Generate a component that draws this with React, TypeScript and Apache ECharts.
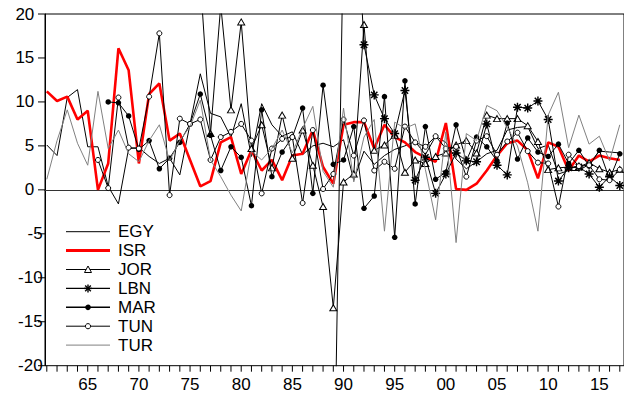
import React, { useEffect, useRef } from "react";
import * as echarts from "echarts";

const years = [
  1961, 1962, 1963, 1964, 1965, 1966, 1967, 1968, 1969, 1970,
  1971, 1972, 1973, 1974, 1975, 1976, 1977, 1978, 1979, 1980,
  1981, 1982, 1983, 1984, 1985, 1986, 1987, 1988, 1989, 1990,
  1991, 1992, 1993, 1994, 1995, 1996, 1997, 1998, 1999, 2000,
  2001, 2002, 2003, 2004, 2005, 2006, 2007, 2008, 2009, 2010,
  2011, 2012, 2013, 2014, 2015, 2016, 2017,
];
const labelYears = [1965, 1970, 1975, 1980, 1985, 1990, 1995, 2000, 2005, 2010, 2015];
const yTickValues = [-20, -15, -10, -5, 0, 5, 10, 15, 20];

const EGY = [
  5.1, 3.9, 10.5, 11.4, 4.9, 4.9, 0.4, -1.6, 4.7, 4.8,
  3.8, 3.0, 3.6, 1.7, 7.5, 13.2, 8.7, 8.3, 6.0, 9.8,
  3.8, 9.8, 7.4, 6.1, 6.6, 4.0, 5.0, 5.3, 4.9, 5.7,
  1.1, 4.4, 2.9, 3.9, 4.6, 5.0, 5.5, 4.0, 6.1, 5.4,
  3.5, 2.4, 3.2, 4.1, 4.5, 6.8, 7.1, 7.2, 4.7, 5.1,
  1.8, 2.2, 2.2, 2.9, 4.4, 4.3, 4.2,
];
const ISR = [
  11.2, 10.1, 10.6, 8.0, 9.0, 0.0, 3.0, 16.1, 13.6, 3.0,
  10.9, 12.1, 5.6, 6.4, 3.4, 0.4, 1.0, 5.4, 6.0, 1.8,
  4.5, 2.2, 3.4, 1.1, 3.9, 4.1, 6.8, 2.6, 0.7, 7.4,
  7.7, 7.7, 4.7, 7.4, 6.0, 5.4, 4.3, 3.7, 3.2, 7.6,
  0.1, 0.0, 0.7, 2.2, 3.9, 5.3, 5.6, 4.5, 1.3, 5.4,
  4.9, 2.2, 3.9, 3.2, 3.9, 3.6, 3.4,
];
const JOR = [
  null, null, null, null, null, null, null, null, null, null,
  null, null, null, null, null, 24, 6.4, 21, 9.1, 19.1,
  4.7, 7.4, 2.5, 8.5, 3.6, 6.8, 2.8, -1.9, -13.4, 0.9,
  1.8, 18.8, 4.5, 5.1, 6.2, 2.0, 3.4, 3.0, 3.8, 4.2,
  5.1, 5.6, 4.2, 8.5, 8.1, 8.1, 8.1, 7.3, 5.5, 2.3,
  2.5, 2.6, 2.6, 3.1, 2.4, 2.0, 2.3,
];
const LBN = [
  null, null, null, null, null, null, null, null, null, null,
  null, null, null, null, null, null, null, null, null, null,
  null, null, null, null, null, null, null, null, -40, 30,
  38.2, 16.5, 10.8, 8.1, 6.4, 11.3, 1.1, 3.7, -0.4, 1.8,
  4.2, 3.3, 3.2, 7.5, 2.8, 1.7, 9.4, 9.3, 10.1, 8.0,
  1.0, 2.5, 2.6, 1.8, 0.3, 1.5, 0.5,
];
const MAR = [
  null, null, null, null, null, null, 10.0, 9.9, 8.4, 4.6,
  5.6, 2.4, 3.6, 5.4, 7.5, 10.9, 6.2, 2.2, 4.9, 3.7,
  -1.8, 9.1, 1.5, 4.3, 6.0, 9.3, -0.4, 11.9, 2.9, 3.4,
  7.2, -2.1, -0.7, 10.6, -5.4, 12.4, -1.6, 7.2, 1.2, 2.0,
  7.4, 3.3, 6.0, 4.9, 3.3, 7.6, 3.5, 5.9, 4.3, 3.8,
  5.2, 3.0, 4.5, 2.7, 4.5, 1.2, 4.1,
];
const TUN = [
  null, null, null, null, null, 3.4, 0.2, 10.5, 4.8, 4.7,
  10.6, 17.8, -0.6, 8.1, 7.5, 8.0, 3.4, 6.0, 6.6, 7.5,
  5.6, -0.4, 4.7, 5.8, 6.0, -1.5, 6.8, 0.1, 1.8, 8.0,
  3.9, 7.9, 2.2, 3.2, 2.4, 7.2, 5.4, 4.9, 6.1, 4.7,
  4.9, 1.5, 5.6, 6.1, 4.0, 5.5, 6.5, 4.4, 3.1, 3.0,
  -1.9, 4.0, 2.7, 2.8, 1.2, 1.1, 2.3,
];
const TUR = [
  1.2, 5.6, 9.1, 5.3, 2.8, 11.2, 4.7, 6.8, 4.1, 3.2,
  5.6, 7.4, 3.3, 5.6, 7.2, 10.2, 3.4, 1.5, -0.6, -2.4,
  4.4, 3.4, 4.7, 6.8, 4.2, 7.0, 9.5, 2.1, 0.3, 9.3,
  0.9, 6.0, 8.0, -4.7, 7.7, 7.0, 7.5, 2.3, -3.4, 6.6,
  -6.0, 6.4, 5.6, 9.6, 9.0, 7.1, 5.0, 0.8, -4.7, 8.5,
  11.1, 4.8, 8.5, 5.2, 6.1, 3.3, 7.4,
];

const seriesNames = ["EGY", "ISR", "JOR", "LBN", "MAR", "TUN", "TUR"];

const X_MIN = 1960.824;
const X_MAX = 2017.41;
const Y_MIN = -20;
const Y_MAX = 20;

const FONT = '"Liberation Sans", Arial, Helvetica, sans-serif';
const FS = 17;
const STAR =
  "path://M-5,-0.8L5,-0.8L5,0.8L-5,0.8Z M-0.8,-5L0.8,-5L0.8,5L-0.8,5Z M-2.97,-4.1L4.1,2.97L2.97,4.1L-4.1,-2.97Z M4.1,-2.97L-2.97,4.1L-4.1,2.97L2.97,-4.1Z";

function toData(arr: (number | null)[]) {
  return years
    .map((y, i) => [y, arr[i]])
    .filter((d) => d[1] !== null && d[1] !== undefined);
}

function buildLegend() {
  const top = 231.7;
  const step = 18.9;
  const x1 = 66;
  const x2 = 110;
  const cx = (x1 + x2) / 2;
  const els: any[] = [];
  seriesNames.forEach((name, i) => {
    const y = top + i * step;
    let stroke = "#000";
    let lw = 1;
    if (name === "ISR") {
      stroke = "#ff0000";
      lw = 3;
    } else if (name === "TUR") {
      stroke = "#808080";
    } else if (name === "LBN" || name === "MAR") {
      lw = 1.4;
    }
    els.push({
      type: "line",
      shape: { x1, y1: y, x2, y2: y },
      style: { stroke, lineWidth: lw },
      silent: true,
    });
    if (name === "JOR") {
      els.push({
        type: "polygon",
        shape: { points: [[cx, y - 3.5], [cx + 3.5, y + 3], [cx - 3.5, y + 3]] },
        style: { fill: "#fff", stroke: "#000", lineWidth: 1 },
        silent: true,
      });
    } else if (name === "LBN") {
      const r = 4;
      const d = r * 0.7071;
      const segs = [
        [cx - r, y, cx + r, y],
        [cx, y - r, cx, y + r],
        [cx - d, y - d, cx + d, y + d],
        [cx - d, y + d, cx + d, y - d],
      ];
      segs.forEach((s) =>
        els.push({
          type: "line",
          shape: { x1: s[0], y1: s[1], x2: s[2], y2: s[3] },
          style: { stroke: "#000", lineWidth: 1.4 },
          silent: true,
        })
      );
    } else if (name === "MAR") {
      els.push({
        type: "circle",
        shape: { cx, cy: y, r: 2.8 },
        style: { fill: "#000" },
        silent: true,
      });
    } else if (name === "TUN") {
      els.push({
        type: "circle",
        shape: { cx, cy: y, r: 2.6 },
        style: { fill: "#fff", stroke: "#000", lineWidth: 1 },
        silent: true,
      });
    }
    els.push({
      type: "text",
      x: 118,
      y,
      style: {
        text: name,
        fill: "#000",
        fontSize: FS,
        fontFamily: FONT,
        verticalAlign: "middle",
        textAlign: "left",
      },
      silent: true,
    });
  });
  return els;
}

export default function App() {
  const ref = useRef<HTMLDivElement>(null);

  useEffect(() => {
    if (!ref.current) return;
    const chart = echarts.init(ref.current, null, { renderer: "svg" });

    const base = (name: string, arr: (number | null)[], z: number) => ({
      name,
      type: "line",
      data: toData(arr),
      symbol: "none",
      lineStyle: { color: "#000", width: 1 },
      itemStyle: { color: "#000" },
      emphasis: { disabled: true },
      silent: true,
      z,
    });

    const series: any[] = [
      {
        ...base("EGY", EGY, 2),
        markLine: {
          silent: true,
          symbol: ["none", "none"],
          label: { show: false },
          lineStyle: { color: "#333", width: 1, type: "solid" },
          data: [{ yAxis: 0 }],
          z: 1,
        },
      },
      {
        ...base("ISR", ISR, 3),
        lineStyle: { color: "#ff0000", width: 2.6 },
        itemStyle: { color: "#ff0000" },
      },
      {
        ...base("JOR", JOR, 4),
        symbol: "triangle",
        symbolSize: [7, 6],
        itemStyle: { color: "#fff", borderColor: "#000", borderWidth: 1 },
      },
      {
        ...base("LBN", LBN, 5),
        symbol: STAR,
        symbolSize: 9,
        itemStyle: { color: "#000" },
      },
      {
        ...base("MAR", MAR, 6),
        symbol: "circle",
        symbolSize: 5.5,
        itemStyle: { color: "#000" },
      },
      {
        ...base("TUN", TUN, 7),
        symbol: "circle",
        symbolSize: 5,
        itemStyle: { color: "#fff", borderColor: "#000", borderWidth: 1 },
      },
      {
        ...base("TUR", TUR, 8),
        lineStyle: { color: "#808080", width: 1 },
        itemStyle: { color: "#808080" },
      },
    ];

    const legendEls = buildLegend();

    const option: any = {
      animation: false,
      backgroundColor: "#ffffff",
      grid: {
        left: 45,
        top: 14,
        width: 580,
        height: 351.7,
        show: true,
        borderColor: "#000",
        borderWidth: 1,
        backgroundColor: "transparent",
      },
      xAxis: {
        type: "value",
        min: X_MIN,
        max: X_MAX,
        axisLine: { show: true, lineStyle: { color: "#000", width: 1 } },
        axisTick: { show: false },
        axisLabel: {
          show: true,
          customValues: labelYears,
          formatter: (v: number) => String(Math.round(v) % 100).padStart(2, "0"),
          color: "#000",
          fontSize: FS,
          fontFamily: FONT,
          margin: 10,
        },
        splitLine: { show: false },
      },
      yAxis: {
        type: "value",
        min: Y_MIN,
        max: Y_MAX,
        interval: 5,
        axisLine: { show: true, lineStyle: { color: "#000", width: 1 } },
        axisTick: { show: false },
        axisLabel: {
          margin: 2.3,
          formatter: (v: number) => (v < 0 ? `{neg|${v}}` : `{pos|${v}}`),
          rich: {
            pos: {
              color: "#000",
              fontSize: FS,
              fontFamily: FONT,
              padding: [0, 8.4, 0, 0],
            },
            neg: {
              color: "#000",
              fontSize: FS,
              fontFamily: FONT,
            },
          },
        },
        splitLine: { show: false },
      },
      series,
      graphic: legendEls,
    };

    chart.setOption(option);

    // tick marks, positioned through the chart's own axis scales
    const tickEls: any[] = [];
    years.forEach((yr) => {
      const p = chart.convertToPixel({ xAxisIndex: 0, yAxisIndex: 0 }, [yr, Y_MIN]) as number[];
      if (p && isFinite(p[0])) {
        tickEls.push({
          type: "line",
          shape: { x1: p[0], y1: p[1], x2: p[0], y2: p[1] + 6 },
          style: { stroke: "#000", lineWidth: 1 },
          silent: true,
        });
      }
    });
    yTickValues.forEach((v) => {
      const p = chart.convertToPixel({ xAxisIndex: 0, yAxisIndex: 0 }, [X_MIN, v]) as number[];
      if (p && isFinite(p[1])) {
        tickEls.push({
          type: "line",
          shape: { x1: p[0] - 7, y1: p[1], x2: p[0], y2: p[1] },
          style: { stroke: "#000", lineWidth: 1 },
          silent: true,
        });
      }
    });
    chart.setOption({ graphic: [...legendEls, ...tickEls] });

    return () => {
      chart.dispose();
    };
  }, []);

  return (
    <div
      ref={ref}
      style={{ position: "fixed", left: 0, top: 0, width: 624, height: 395, background: "#fff" }}
    />
  );
}
